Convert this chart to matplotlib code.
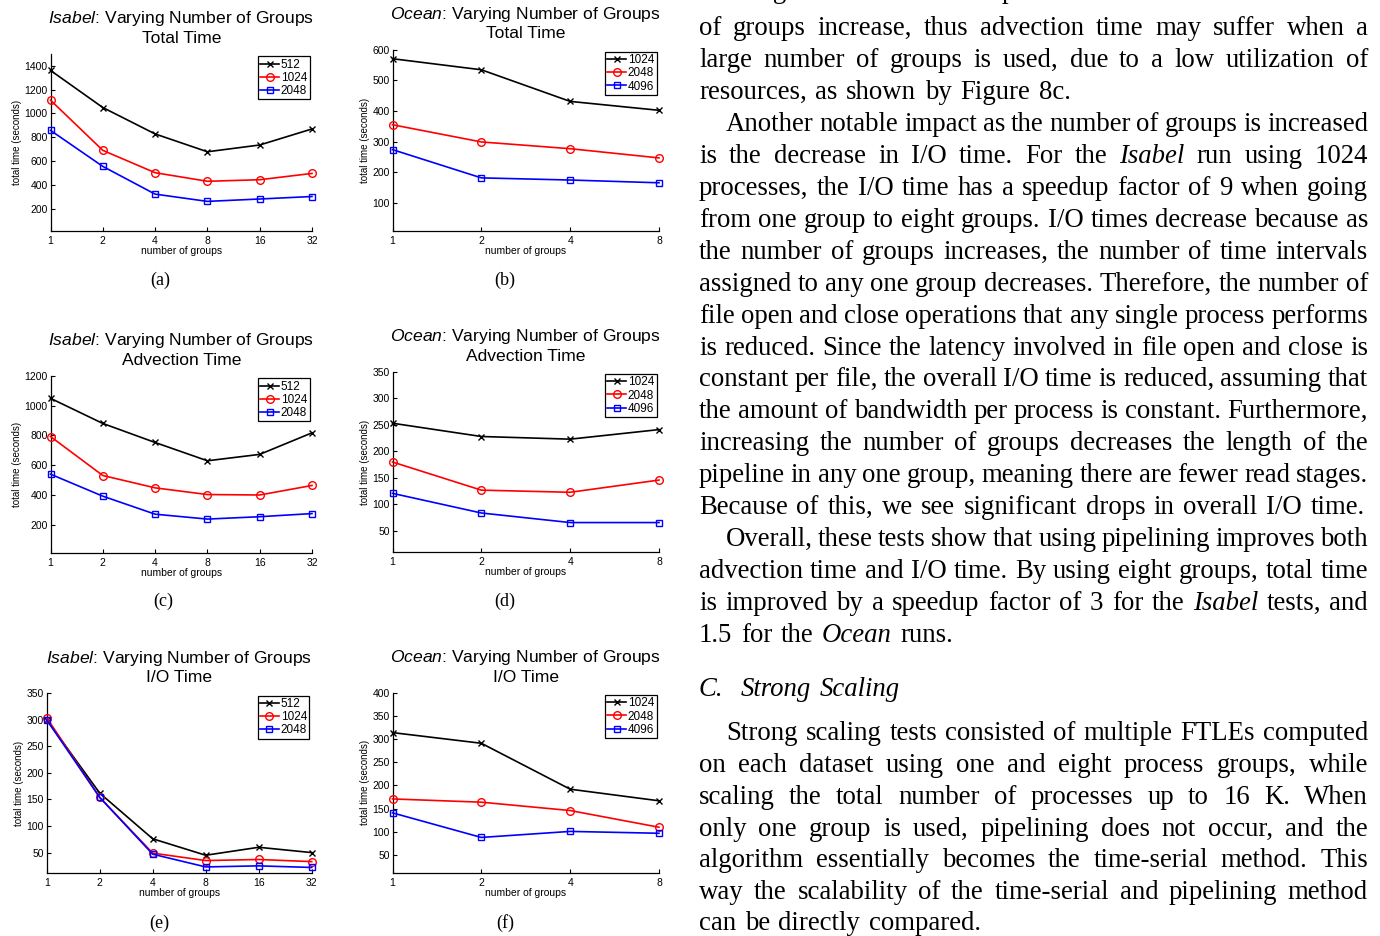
"""
Recreation of a paper page fragment: six line charts (varying number of
groups) on the left and the justified body text on the right.
"""

import matplotlib

matplotlib.use("Agg")
import matplotlib.pyplot as plt

W, H = 1380, 936
DPI = 100

plt.rcParams["font.family"] = ["Liberation Sans", "DejaVu Sans"]
plt.rcParams["mathtext.fontset"] = "custom"
plt.rcParams["mathtext.rm"] = "Liberation Sans"
plt.rcParams["mathtext.it"] = "Liberation Sans:italic"

# --------------------------------------------------------------------------- #
# Data
# --------------------------------------------------------------------------- #
groups_isabel = [1, 2, 4, 8, 16, 32]
groups_ocean = [1, 2, 4, 8]
procs_isabel = ["512", "1024", "2048"]
procs_ocean = ["1024", "2048", "4096"]

isabel_total = [
    [1362, 1050, 828, 678, 735, 870],
    [1112, 690, 502, 430, 443, 496],
    [858, 555, 322, 261, 281, 302],
]
ocean_total = [
    [570, 534, 431, 402],
    [355, 299, 277, 247],
    [274, 182, 175, 166],
]
isabel_advect = [
    [1050, 881, 753, 630, 673, 818],
    [793, 531, 448, 403, 400, 464],
    [540, 392, 271, 238, 254, 275],
]
ocean_advect = [
    [253, 228, 223, 241],
    [180, 127, 123, 146],
    [121, 84, 66, 66],
]
isabel_io = [
    [300, 162, 76, 45, 60, 50],
    [304, 154, 49, 35, 37, 33],
    [300, 154, 47, 23, 25, 22],
]
ocean_io = [
    [314, 291, 192, 167],
    [171, 164, 146, 110],
    [141, 88, 101, 97],
]

# --------------------------------------------------------------------------- #
# Layout (pixels: left, top, right, bottom)
# --------------------------------------------------------------------------- #
panels = [
    ("Isabel", "Total Time", groups_isabel, procs_isabel, isabel_total,
     (12, 1500), range(200, 1401, 200), (50.5, 54, 312, 231), "(a)", (160, 280)),
    ("Ocean", "Total Time", groups_ocean, procs_ocean, ocean_total,
     (10, 600), range(100, 601, 100), (392.5, 49.5, 659, 230.7), "(b)", (505, 280)),
    ("Isabel", "Advection Time", groups_isabel, procs_isabel, isabel_advect,
     (12, 1200), range(200, 1201, 200), (50.5, 376, 312, 552.7), "(c)", (163, 601)),
    ("Ocean", "Advection Time", groups_ocean, procs_ocean, ocean_advect,
     (10, 350), range(50, 351, 50), (392.5, 371.7, 659, 552.3), "(d)", (505, 601)),
    ("Isabel", "I/O Time", groups_isabel, procs_isabel, isabel_io,
     (11, 350), range(50, 351, 50), (46.7, 693.3, 311.7, 873.3), "(e)", (159, 923)),
    ("Ocean", "I/O Time", groups_ocean, procs_ocean, ocean_io,
     (12, 400), range(50, 401, 50), (392.5, 692.7, 659, 872.7), "(f)", (505, 923)),
]

series_style = [
    dict(color="black", marker="x", ms=4, mew=1.0),
    dict(color="red", marker="o", ms=5.5, mew=1.0, mfc="none"),
    dict(color="blue", marker="s", ms=4.5, mew=1.0, mfc="none"),
]

# --------------------------------------------------------------------------- #
# Body text
# --------------------------------------------------------------------------- #
# (text, y-baseline px, indent, justify)
body_lines = [
    ("last stages of the advection phase will increase as the number", -2, False, True),
    ("of groups increase, thus advection time may suffer when a", 35, False, True),
    ("large number of groups is used, due to a low utilization of", 67, False, True),
    ("resources, as shown by Figure 8c.", 99, False, False),
    ("Another notable impact as the number of groups is increased", 131, True, True),
    ("is the decrease in I/O time. For the *Isabel* run using 1024", 163, False, True),
    ("processes, the I/O time has a speedup factor of 9 when going", 195, False, True),
    ("from one group to eight groups. I/O times decrease because as", 227, False, True),
    ("the number of groups increases, the number of time intervals", 259, False, True),
    ("assigned to any one group decreases. Therefore, the number of", 291, False, True),
    ("file open and close operations that any single process performs", 323, False, True),
    ("is reduced. Since the latency involved in file open and close is", 355, False, True),
    ("constant per file, the overall I/O time is reduced, assuming that", 386, False, True),
    ("the amount of bandwidth per process is constant. Furthermore,", 418, False, True),
    ("increasing the number of groups decreases the length of the", 450, False, True),
    ("pipeline in any one group, meaning there are fewer read stages.", 482, False, True),
    ("Because of this, we see significant drops in overall I/O time.", 514, False, False),
    ("Overall, these tests show that using pipelining improves both", 546, True, True),
    ("advection time and I/O time. By using eight groups, total time", 578, False, True),
    ("is improved by a speedup factor of 3 for the *Isabel* tests, and", 610, False, True),
    ("1.5 for the *Ocean* runs.", 642, False, False),
    ("*C.*  *Strong* *Scaling*", 696, False, False),
    ("Strong scaling tests consisted of multiple FTLEs computed", 740, True, True),
    ("on each dataset using one and eight process groups, while", 772, False, True),
    ("scaling the total number of processes up to 16 K. When", 804, False, True),
    ("only one group is used, pipelining does not occur, and the", 836, False, True),
    ("algorithm essentially becomes the time-serial method. This", 867, False, True),
    ("way the scalability of the time-serial and pipelining method", 899, False, True),
    ("can be directly compared.", 930, False, False),
]
TEXT_X0, TEXT_X1, INDENT = 699, 1368, 27
BODY_SIZE = 19.3


def px_rect(left, top, right, bottom):
    return [left / W, 1 - bottom / H, (right - left) / W, (bottom - top) / H]


def draw_panel(fig, dataset, metric, groups, labels, values, ylim, yticks,
               rect, caption, cap_xy):
    ax = fig.add_axes(px_rect(*rect))
    for vals, lab, st in zip(values, labels, series_style):
        ax.plot(groups, vals, lw=1.2, label=lab, clip_on=False, zorder=3, **st)
    ax.set_xscale("log", base=2)
    ax.set_xlim(groups[0], groups[-1])
    ax.set_xticks(groups, [str(g) for g in groups])
    ax.minorticks_off()
    ax.set_ylim(*ylim)
    ax.set_yticks(list(yticks))
    for side in ("top", "right"):
        ax.spines[side].set_visible(False)
    for side in ("left", "bottom"):
        ax.spines[side].set_linewidth(0.9)
    ax.tick_params(direction="in", length=3, width=0.8, labelsize=7.5)
    ax.tick_params(axis="x", pad=3.5)
    ax.tick_params(axis="y", pad=2)
    ax.set_xlabel("number of groups", fontsize=7.5, labelpad=0)
    ax.set_ylabel("total time (seconds)", fontsize=7, labelpad=2)
    ax.set_title(r"$\mathit{%s}$: Varying Number of Groups" % dataset + "\n" + metric,
                 fontsize=12.6, linespacing=1.2, pad=8)
    leg = ax.legend(loc="upper right", fontsize=8.5, fancybox=False,
                    edgecolor="black", framealpha=1, borderpad=0.2,
                    labelspacing=0.1, handlelength=1.6, handletextpad=0.15,
                    borderaxespad=0.2)
    leg.get_frame().set_linewidth(0.9)
    fig.text(cap_xy[0] / W, 1 - cap_xy[1] / H, caption, fontsize=13,
             family="Liberation Serif", ha="center", va="center")


def draw_line(fig, renderer, text, y, indent, justify):
    x0 = TEXT_X0 + (INDENT if indent else 0)
    objs, widths = [], []
    for word in text.split(" "):
        italic = word.startswith("*") and word.endswith("*")
        word = word.strip("*")
        t = fig.text(0, 0, word, fontsize=BODY_SIZE, family="Liberation Serif",
                     style="italic" if italic else "normal", va="baseline", ha="left")
        objs.append(t)
        widths.append(t.get_window_extent(renderer).width if word else 0.0)
    space = 0.32 * BODY_SIZE * DPI / 72
    if justify and len(objs) > 1:
        gap = (TEXT_X1 - x0 - sum(widths)) / (len(objs) - 1)
    else:
        gap = space
    x = x0
    for t, w in zip(objs, widths):
        t.set_position((x / W, 1 - y / H))
        x += w + gap


def main():
    fig = plt.figure(figsize=(W / DPI, H / DPI), dpi=DPI)
    for p in panels:
        draw_panel(fig, *p)
    renderer = fig.canvas.get_renderer()
    for text, y, indent, justify in body_lines:
        draw_line(fig, renderer, text, y, indent, justify)
    fig.savefig("out.png", dpi=DPI)
    plt.close(fig)


if __name__ == "__main__":
    main()
